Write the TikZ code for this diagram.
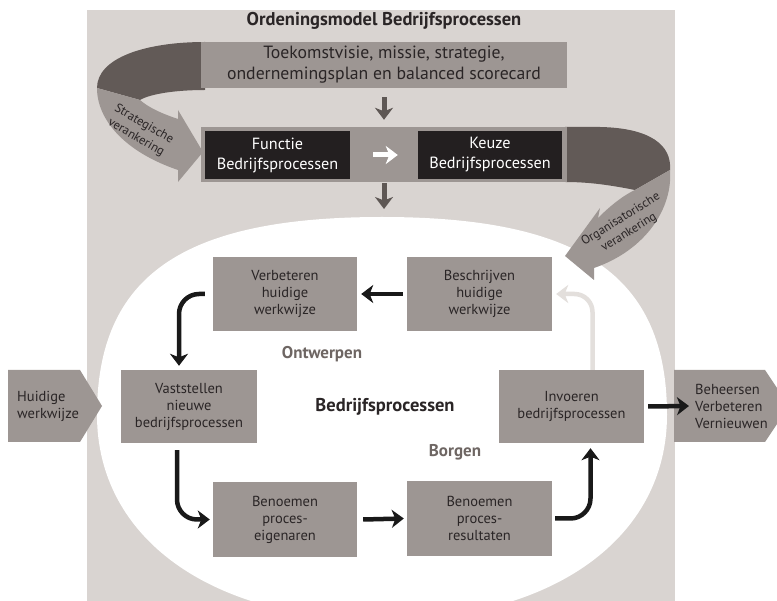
\documentclass[tikz,border=0pt]{standalone}
\usepackage{fontspec}
\setmainfont{PT Sans}
\usetikzlibrary{arrows.meta}

\definecolor{panel}{HTML}{D9D4D1}
\definecolor{boxgray}{HTML}{9D9693}
\definecolor{ribdark}{HTML}{625A57}
\definecolor{blackbox}{HTML}{231F20}
\definecolor{arrowdark}{HTML}{5E5754}
\definecolor{lightarrow}{HTML}{E3DFDC}
\definecolor{labelgray}{HTML}{6E6663}
\definecolor{textdark}{HTML}{2A2526}

\tikzset{
  procbox/.style={fill=boxgray, text=textdark, align=center, inner sep=0pt,
    minimum width=144pt, minimum height=74pt,
    font=\fontsize{14.5}{17}\selectfont},
  darkbox/.style={fill=blackbox, text=white, align=center, inner sep=0pt,
    minimum width=145pt, minimum height=48pt,
    font=\fontsize{16.2}{20}\selectfont},
  toparrow/.style={line width=5pt, draw=arrowdark,
    -{Stealth[length=12pt,width=18pt,inset=3.5pt]}},
  flowarrow/.style={line width=4.5pt, draw=black!90,
    -{Stealth[length=12pt,width=18pt,inset=3.5pt]}},
  ribbontext/.style={text=textdark, align=center, inner sep=0pt,
    font=\fontsize{12.5}{15.5}\selectfont},
  phase/.style={text=labelgray, font=\bfseries\fontsize{17}{20}\selectfont},
  sidetext/.style={text=textdark, align=left, inner sep=0pt,
    font=\fontsize{14.5}{17}\selectfont}
}

\begin{document}
\begin{tikzpicture}[x=1pt,y=-1pt]
\useasboundingbox (0,0) rectangle (777,601);

% background panel and the white oval
\fill[panel] (87,10) rectangle (675,601);
\begin{scope}
  \clip (87,10) rectangle (675,601);
  \fill[white] (97,415) .. controls (97,276) and (182.5,217) .. (382,217)
    .. controls (581.5,217) and (667,276) .. (667,415)
    .. controls (667,538) and (553,620) .. (382,620)
    .. controls (211,620) and (97,538) .. (97,415) -- cycle;
\end{scope}

% left ribbon: strategic anchoring
\fill[ribdark] (205,42) .. controls (145,42) and (97,58) .. (97,88)
  -- (140,100) .. controls (150,94) and (175,90) .. (205,90) -- cycle;
\fill[boxgray] (97,88) .. controls (97,120) and (125,152) .. (178,170)
  -- (178,182) -- (203,152) -- (178,110) -- (178,119)
  .. controls (160,113) and (148,107) .. (140,100) -- cycle;
\node[ribbontext, rotate=-30] (strat) at (140,131) {Strategische\\verankering};

% right ribbon: organisational anchoring
\fill[ribdark] (565,127) -- (600,127) .. controls (650,128) and (672,145) .. (670,170)
  -- (635,190) .. controls (605,184) and (585,182) .. (565,182) -- cycle;
\fill[boxgray] (670,170) .. controls (673,208) and (646,250) .. (594,268)
  -- (594,280) -- (565,256) -- (600,208) -- (598,218)
  .. controls (611,205) and (624,195) .. (635,190) -- cycle;
\node[ribbontext, rotate=32] (org) at (625,226) {Organisatorische\\verankering};

% title, vision and function rows
\node[text=textdark, font=\bfseries\fontsize{18.5}{22}\selectfont] (title) at (384,21)
  {Ordeningsmodel Bedrijfsprocessen};
\node[fill=boxgray, text=textdark, align=center, inner sep=0pt,
  minimum width=366pt, minimum height=46pt,
  font=\fontsize{17.7}{21}\selectfont] (vision) at (384,65)
  {Toekomstvisie, missie, strategie,\\ondernemingsplan en balanced scorecard};
\node[fill=boxgray, inner sep=0pt, minimum width=366pt, minimum height=55pt] (band) at (384,154.5) {};
\node[darkbox] (functie) at (277.5,155) {Functie\\Bedrijfsprocessen};
\node[darkbox, minimum width=144pt] (keuze) at (490,155) {Keuze\\Bedrijfsprocessen};
\coordinate (ovaltop) at (384,209);

\draw[toparrow] ([yshift=-9pt]vision.south) -- ([yshift=7pt]band.north);
\draw[toparrow, draw=white] ([xshift=23pt]functie.east) -- ([xshift=-20pt]keuze.west);
\draw[toparrow] ([yshift=-1pt]band.south) -- (ovaltop);

% process steps
\node[procbox] (verb) at (285,294) {Verbeteren\\huidige\\werkwijze};
\node[procbox, minimum width=145pt] (besch) at (479.5,294) {Beschrijven\\huidige\\werkwijze};
\node[procbox, minimum width=136pt, minimum height=73pt] (vast) at (189,406.5) {Vaststellen\\nieuwe\\bedrijfsprocessen};
\node[procbox, minimum width=145pt, minimum height=73pt] (invo) at (571.5,406.5) {Invoeren\\bedrijfsprocessen};
\node[procbox, minimum height=75pt] (eig) at (285,519.5) {Benoemen\\proces-\\eigenaren};
\node[procbox, minimum width=145pt] (res) at (479.5,518.5) {Benoemen\\proces-\\resultaten};

\node[text=textdark, font=\bfseries\fontsize{18.5}{22}\selectfont] (core) at (385,407) {Bedrijfsprocessen};
\node[phase] (ontw) at (322,354) {Ontwerpen};
\node[phase] (borg) at (455,452) {Borgen};

% input and output
\fill[boxgray] (8,370) -- (80,370) -- (102,406) -- (80,442) -- (8,442) -- cycle;
\node[sidetext, anchor=west] (huidig) at (17,406) {Huidige\\werkwijze};
\fill[boxgray] (674,370) -- (765,370) -- (789,406) -- (765,442) -- (674,442) -- cycle;
\node[sidetext, anchor=west] (beh) at (695,406) {Beheersen\\Verbeteren\\Vernieuwen};

% flow between the steps
\draw[flowarrow, draw=lightarrow, rounded corners=18pt]
  ([xshift=21pt]invo.north) |- ([xshift=4pt]besch.east);
\draw[flowarrow] ([xshift=-4pt]besch.west) -- ([xshift=4pt]verb.east);
\draw[flowarrow, rounded corners=20pt]
  ([xshift=-8pt]verb.west) -| ([xshift=-10pt,yshift=4pt]vast.north);
\draw[flowarrow, rounded corners=20pt]
  ([xshift=-12pt,yshift=-7pt]vast.south) |- ([xshift=-3pt]eig.west);
\draw[flowarrow] ([xshift=6pt]eig.east) -- ([xshift=-3pt]res.west);
\draw[flowarrow, rounded corners=20pt]
  ([xshift=3pt]res.east) -| ([xshift=19pt,yshift=-5pt]invo.south);
\draw[flowarrow] ([xshift=4pt]invo.east) -- ([xshift=-6pt]beh.west);
\end{tikzpicture}
\end{document}
